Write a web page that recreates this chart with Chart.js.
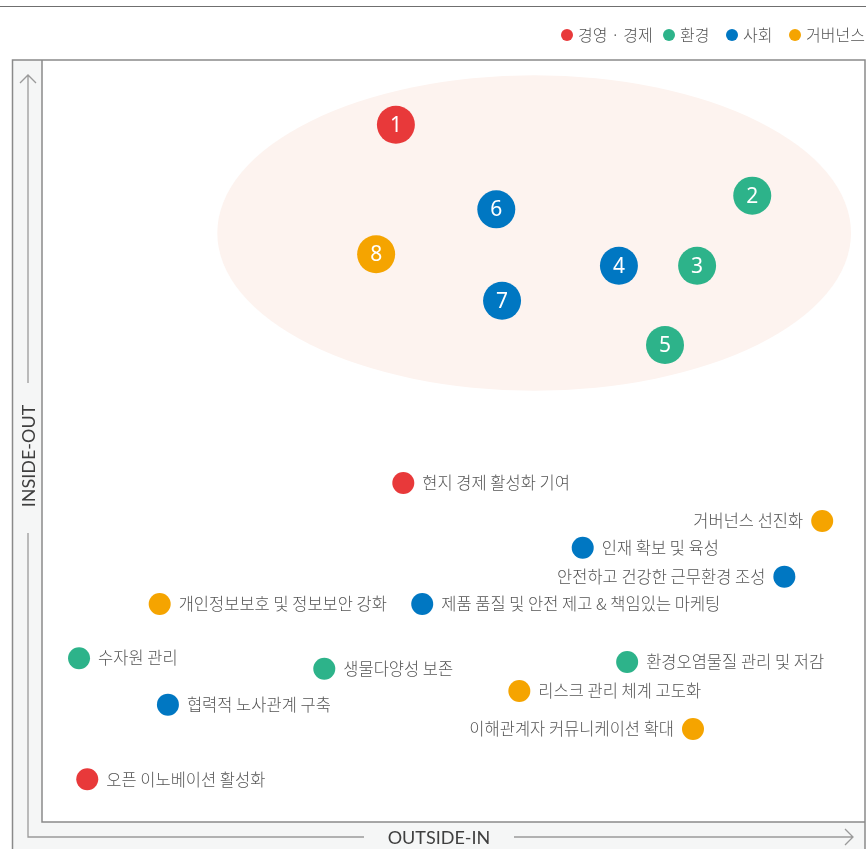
<!DOCTYPE html>
<html>
<head>
<meta charset="utf-8">
<script src="https://cdn.jsdelivr.net/npm/chart.js@4.4.1/dist/chart.umd.min.js"></script>
<style>
html,body{margin:0;padding:0;background:#fff;}
#wrap{width:868px;height:849px;position:relative;}
</style>
</head>
<body>
<div id="wrap"><canvas id="c" width="868" height="849"></canvas></div>
<script>
// ---- data ----
const categories = ['경영 · 경제', '환경', '사회', '거버넌스'];
const categoryColors = ['#e8393a', '#2db38a', '#0077c2', '#f5a400'];

const itemLabels = [
  '', '', '', '', '', '', '', '',
  '현지 경제 활성화 기여', '거버넌스 선진화', '인재 확보 및 육성', '안전하고 건강한 근무환경 조성',
  '개인정보보호 및 정보보안 강화', '제품 품질 및 안전 제고 & 책임있는 마케팅', '수자원 관리', '생물다양성 보존',
  '환경오염물질 관리 및 저감', '리스크 관리 체계 고도화', '협력적 노사관계 구축', '이해관계자 커뮤니케이션 확대',
  '오픈 이노베이션 활성화'
];
const itemNumbers = ['1','2','3','4','5','6','7','8', null,null,null,null,null,null,null,null,null,null,null,null,null];
const itemCategory = [0,1,1,2,1,2,2,3, 0,3,2,2,3,2,1,1,1,3,2,3,0];
const outsideIn  = [43.0,86.3,79.6,70.1,75.7,55.2,55.9,40.6, 43.9,94.8,65.7,90.2,14.3,46.2,4.5,34.3,71.1,58.0,15.3,79.1,5.5];
const insideOut  = [91.5,82.2,73.0,73.0,62.6,80.4,68.4,74.5, 44.5,39.5,36.0,32.2,28.6,28.6,21.5,20.1,21.0,17.2,15.4,12.2,5.6];
const labelSide  = ['','','','','','','','', 'right','left','right','left','right','right','right','right','right','right','right','left','right'];

const axisTitleX = 'OUTSIDE-IN';
const axisTitleY = 'INSIDE-OUT';

// highlight ellipse (center and radii in data units)
const ellipseCenter = [59.8, 77.3];
const ellipseRadii = [38.5, 20.7];

const FONT_KR = '"Noto Sans CJK KR", "Noto Sans", sans-serif';

const points = outsideIn.map((x, i) => ({x: x, y: insideOut[i]}));

const decorPlugin = {
  id: 'decor',
  beforeDraw(chart) {
    const ctx = chart.ctx;
    const a = chart.chartArea;
    ctx.save();
    ctx.fillStyle = '#fff';
    ctx.fillRect(0, 0, chart.width, chart.height);
    // band
    ctx.fillStyle = '#f5f6f6';
    ctx.fillRect(12.5, a.top, a.right - 12.5, chart.height - a.top);
    ctx.fillStyle = '#fff';
    ctx.fillRect(a.left, a.top, a.right - a.left, a.bottom - a.top);
    // top rule
    ctx.strokeStyle = '#6f6f6f';
    ctx.lineWidth = 1.2;
    ctx.beginPath(); ctx.moveTo(0, 6.5); ctx.lineTo(866, 6.5); ctx.stroke();
    // legend
    ctx.font = '300 16px ' + FONT_KR;
    ctx.textBaseline = 'middle';
    const legendX = [567, 669, 732, 795];
    categories.forEach((c, i) => {
      ctx.fillStyle = categoryColors[i];
      ctx.beginPath(); ctx.arc(legendX[i], 35, 6, 0, Math.PI * 2); ctx.fill();
      ctx.fillStyle = '#555';
      ctx.textAlign = 'left';
      ctx.fillText(c, legendX[i] + 11, 35);
    });
    // ellipse
    const xs = chart.scales.x, ys = chart.scales.y;
    const cx = xs.getPixelForValue(ellipseCenter[0]);
    const cy = ys.getPixelForValue(ellipseCenter[1]);
    const rx = Math.abs(xs.getPixelForValue(ellipseCenter[0] + ellipseRadii[0]) - cx);
    const ry = Math.abs(ys.getPixelForValue(ellipseCenter[1] + ellipseRadii[1]) - cy);
    ctx.save();
    ctx.beginPath(); ctx.rect(a.left, a.top, a.right - a.left, a.bottom - a.top); ctx.clip();
    ctx.fillStyle = '#fdf3ef';
    ctx.beginPath(); ctx.ellipse(cx, cy, rx, ry, 0, 0, Math.PI * 2); ctx.fill();
    ctx.restore();
    ctx.restore();
  },
  afterDraw(chart) {
    const ctx = chart.ctx;
    const a = chart.chartArea;
    ctx.save();
    // frames
    ctx.strokeStyle = '#8a8a8a';
    ctx.lineWidth = 1.5;
    ctx.beginPath();
    ctx.moveTo(12.5, chart.height); ctx.lineTo(12.5, a.top); ctx.lineTo(a.right, a.top); ctx.lineTo(a.right, chart.height);
    ctx.stroke();
    ctx.beginPath();
    ctx.moveTo(a.left, a.top); ctx.lineTo(a.left, a.bottom); ctx.lineTo(a.right, a.bottom);
    ctx.stroke();
    // arrows
    ctx.strokeStyle = '#9a9a9a';
    ctx.lineWidth = 1.3;
    const ax = 28, ay = 837;
    ctx.beginPath();
    ctx.moveTo(ax, 75); ctx.lineTo(ax, 383);
    ctx.moveTo(ax, 533); ctx.lineTo(ax, ay); ctx.lineTo(364, ay);
    ctx.moveTo(514, ay); ctx.lineTo(853, ay);
    ctx.moveTo(20, 83); ctx.lineTo(ax, 75); ctx.lineTo(36, 83);
    ctx.moveTo(845, ay - 8); ctx.lineTo(853, ay); ctx.lineTo(845, ay + 8);
    ctx.stroke();
    // axis titles
    ctx.fillStyle = '#3f3f3f';
    ctx.font = '18px Lato, "Open Sans", sans-serif';
    ctx.textAlign = 'center';
    ctx.textBaseline = 'middle';
    ctx.fillText(axisTitleX, 439, ay + 1);
    ctx.save();
    ctx.translate(ax, 456);
    ctx.rotate(-Math.PI / 2);
    ctx.fillText(axisTitleY, 0, 1);
    ctx.restore();
    // point labels
    const meta = chart.getDatasetMeta(0);
    meta.data.forEach((el, i) => {
      const p = el.getProps(['x', 'y'], true);
      if (itemNumbers[i]) {
        ctx.fillStyle = '#fff';
        ctx.font = '21px "Noto Sans", "Open Sans", sans-serif';
        ctx.textAlign = 'center';
        ctx.fillText(itemNumbers[i], p.x, p.y + 1);
      } else {
        ctx.fillStyle = '#555';
        ctx.font = '300 16.5px ' + FONT_KR;
        if (labelSide[i] === 'left') {
          ctx.textAlign = 'right';
          ctx.fillText(itemLabels[i], p.x - 19, p.y);
        } else {
          ctx.textAlign = 'left';
          ctx.fillText(itemLabels[i], p.x + 19, p.y);
        }
      }
    });
    ctx.restore();
  }
};

new Chart(document.getElementById('c'), {
  type: 'scatter',
  data: {
    datasets: [{
      data: points,
      pointRadius: ctx => itemNumbers[ctx.dataIndex] ? 19 : 11,
      pointHoverRadius: ctx => itemNumbers[ctx.dataIndex] ? 19 : 11,
      pointBackgroundColor: ctx => categoryColors[itemCategory[ctx.dataIndex]],
      pointBorderWidth: 0,
      borderWidth: 0
    }]
  },
  options: {
    responsive: false,
    animation: false,
    events: [],
    layout: { autoPadding: false, padding: { left: 42, top: 60, right: 3, bottom: 27 } },
    plugins: { legend: { display: false }, tooltip: { enabled: false } },
    scales: {
      x: { type: 'linear', min: 0, max: 100, display: false },
      y: { type: 'linear', min: 0, max: 100, display: false }
    },
    clip: false
  },
  plugins: [decorPlugin]
});
</script>
</body>
</html>
